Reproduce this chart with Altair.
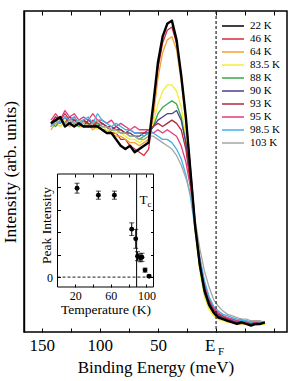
import altair as alt
import pandas as pd

# ---------------- spectra: binding energy (meV) and intensity (% of frame height)
energy = [142, 138, 134, 130, 126, 122, 118, 114, 110, 106, 102, 98, 94, 90, 86, 82,
          78, 74, 70, 66, 62, 58, 54, 50, 46, 42, 38, 34, 30, 26, 22, 18, 14, 10, 6,
          2, -2, -6, -10, -14, -18, -22, -26, -30, -34, -38, -42]

temperatures = ["22 K", "46 K", "64 K", "83.5 K", "88 K", "90 K", "93 K", "95 K",
                "98.5 K", "103 K"]
line_colors = ["#000000", "#d8283c", "#f4a233", "#f2ee3a", "#3aa64c", "#4b3f8e",
               "#b3283a", "#e03c7c", "#3fb2e6", "#a6a6a6"]

k22 = [65, 66, 67, 64, 65, 64, 65, 64, 64, 64, 64, 63, 62, 62, 60, 58, 57, 58, 56, 57,
       58, 59, 71, 84, 92, 96, 97, 91, 80, 67, 50, 33, 21, 13, 8.5, 6, 4.5, 4, 3.5, 3,
       2.5, 3, 2.5, 2, 2.5, 2.5, 3]
k46 = [65, 67, 66, 68, 66, 67, 65, 66, 64, 66, 65, 64, 64, 62, 62, 60, 60, 58, 57, 56,
       55, 57, 68, 82, 90, 94, 95, 90, 80, 67, 51, 34, 22, 14, 9, 7, 5.5, 4.5, 4, 3.5,
       3, 3.5, 2.5, 3, 2.5, 3, 3]
k64 = [63, 65, 64, 66, 64, 65, 64, 64, 65, 63, 64, 63, 63, 62, 61, 61, 60, 59, 59, 58,
       59, 60, 67, 79, 87, 91, 92, 88, 78, 65, 49, 32, 20, 12, 8, 5.5, 4.5, 4, 3, 3,
       2.5, 2.5, 2.5, 2, 2.5, 2.5, 2.5]
k83 = [64, 65, 64, 66, 65, 64, 66, 65, 64, 65, 63, 64, 63, 63, 62, 62, 61, 60, 60, 59,
       60, 61, 65, 71, 75, 77, 77, 75, 70, 61, 47, 31, 19, 11, 7, 5, 4, 3.5, 3, 3,
       2.5, 3, 2.5, 2.5, 2, 2.5, 2.5]
k88 = [65, 64, 66, 65, 66, 65, 64, 66, 65, 64, 65, 64, 64, 63, 63, 62, 62, 61, 61, 60,
       61, 62, 64, 68, 70, 71, 72, 71, 67, 59, 47, 32, 20, 12, 8, 6, 5, 4, 3.5, 3,
       3, 3, 2.5, 3, 2.5, 2.5, 3]
k90 = [64, 66, 65, 67, 65, 66, 65, 64, 66, 65, 64, 65, 64, 63, 64, 63, 62, 62, 61, 61,
       62, 62, 64, 66, 67, 68, 68, 69, 66, 59, 47, 33, 21, 13, 9, 6.5, 5, 4.5, 4, 3.5,
       3, 3.5, 3, 2.5, 3, 2.5, 3]
k93 = [65, 67, 66, 65, 67, 66, 65, 66, 65, 64, 66, 65, 64, 64, 63, 63, 62, 63, 62, 62,
       62, 63, 64, 65, 64, 65, 66, 65, 63, 57, 46, 33, 22, 14, 10, 7, 5.5, 5, 4, 4,
       3.5, 3, 3.5, 3, 3, 3, 3]
k95 = [66, 68, 66, 69, 67, 68, 66, 67, 66, 68, 66, 66, 65, 66, 64, 65, 64, 63, 64, 63,
       63, 63, 62, 63, 62, 63, 62, 61, 58, 53, 45, 33, 23, 15, 10.5, 7.5, 6, 5, 4.5, 4,
       3.5, 4, 3, 3.5, 3, 3, 3]
k98 = [64, 66, 65, 67, 66, 67, 65, 66, 67, 65, 68, 66, 65, 64, 65, 64, 63, 63, 62, 62,
       61, 62, 62, 61, 60, 60, 59, 57, 54, 49, 42, 32, 23, 16, 11, 8, 6.5, 5.5, 5, 4.5,
       4, 3.5, 3.5, 3, 3.5, 3, 3]
k103 = [64, 65, 66, 65, 66, 65, 66, 65, 64, 65, 66, 64, 64, 63, 63, 62, 62, 61, 61, 60,
        60, 61, 61, 60, 59, 58, 57, 55, 52, 48, 43, 35, 26, 19, 14, 10, 8, 6.5, 5.5, 5,
        4.5, 4, 4, 3.5, 3.5, 3.5, 3]
spectra = [k22, k46, k64, k83, k88, k90, k93, k95, k98, k103]

# ---------------- inset: peak intensity versus temperature
peak_T = [22, 46, 64, 83.5, 88, 90, 93, 95, 98.5, 103]
peak_I = [3.95, 3.64, 3.64, 2.13, 1.70, 0.93, 0.86, 0.88, 0.31, 0.04]
peak_err = [0.22, 0.18, 0.18, 0.28, 0.42, 0.20, 0.18, 0.18, 0.09, 0.05]
T_c = 89.0

rows = []
for label, values in zip(temperatures, spectra):
    for e, v in zip(energy, values):
        rows.append({"E": e, "I": v, "T": label})
curves = pd.DataFrame(rows)

peaks = pd.DataFrame({
    "T": peak_T,
    "I": peak_I,
    "lo": [i - s for i, s in zip(peak_I, peak_err)],
    "hi": [i + s for i, s in zip(peak_I, peak_err)],
})

SERIF = "Liberation Serif, Times New Roman, serif"

# ---------------- main panel scales and axes
x_main = alt.Scale(domain=[-61, 165.2], reverse=True, nice=False, zero=False)
y_main = alt.Scale(domain=[0, 100], nice=False, zero=False)
color_scale = alt.Scale(domain=temperatures, range=line_colors)
legend = alt.Legend(
    orient="none", legendX=197, legendY=9, title=None, symbolType="stroke",
    symbolSize=484, symbolStrokeWidth=1.5, labelFont=SERIF, labelFontSize=11,
    labelOffset=5, clipHeight=12.2, rowPadding=0, padding=0,
)
minor_E = list(range(-50, 151, 25))

axis_E_labels = alt.Axis(
    orient="bottom", values=[150, 100, 50], ticks=False, domain=False, grid=False,
    labelFontSize=17, labelPadding=5, labelOverlap=False, labelFlush=False,
    title="Binding Energy (meV)", titleFontSize=17, titlePadding=6,
)
axis_E_bottom_ticks = alt.Axis(
    orient="bottom", values=minor_E, labels=False, tickSize=4, domain=False,
    grid=False, title=None, offset=-4,
)
axis_E_top_ticks = alt.Axis(
    orient="top", values=minor_E, labels=False, tickSize=4, domain=False,
    grid=False, title=None, offset=-4,
)
axis_I = alt.Axis(
    orient="left", labels=False, ticks=False, domain=True, domainColor="black",
    domainWidth=1.4, grid=False, minExtent=0,
    title="Intensity (arb. units)", titleFontSize=17.5, titlePadding=5,
)

ef = pd.DataFrame({"E": [0.0], "I": [0.0]})

ef_rule = alt.Chart(ef).mark_rule(strokeDash=[3, 2], color="#222222", strokeWidth=1.2).encode(
    x=alt.X("E:Q", scale=x_main, axis=axis_E_bottom_ticks)
)
warm = alt.Chart(curves).transform_filter(alt.datum.T != "22 K").mark_line(
    strokeWidth=1.3, strokeJoin="round"
).encode(
    x=alt.X("E:Q", scale=x_main, axis=axis_E_labels),
    y=alt.Y("I:Q", scale=y_main, axis=axis_I),
    color=alt.Color("T:N", scale=color_scale, legend=legend),
)
cold = alt.Chart(curves).transform_filter(alt.datum.T == "22 K").mark_line(
    strokeWidth=2.4, strokeJoin="round"
).encode(
    x=alt.X("E:Q", scale=x_main, axis=None),
    y=alt.Y("I:Q", scale=y_main, axis=None),
    color=alt.Color("T:N", scale=color_scale, legend=legend),
)
ef_E = alt.Chart(ef).mark_text(
    text="E", font=SERIF, fontSize=17, align="center", baseline="alphabetic", dx=-6, dy=19
).encode(
    x=alt.X("E:Q", scale=x_main, axis=axis_E_top_ticks),
    y=alt.Y("I:Q", scale=y_main, axis=None),
)
ef_F = alt.Chart(ef).mark_text(
    text="F", font=SERIF, fontSize=11, align="center", baseline="alphabetic", dx=5, dy=23
).encode(
    x=alt.X("E:Q", scale=x_main, axis=None),
    y=alt.Y("I:Q", scale=y_main, axis=None),
)

# ---------------- inset panel scales and axes
inset_x = alt.Scale(domain=[0, 108], range=[33.5, 129.5], nice=False, zero=False)
inset_y = alt.Scale(domain=[-0.44, 4.58], range=[276, 163], nice=False, zero=False)
inset_box = pd.DataFrame({
    "x0": [0], "x1": [108], "y0": [-0.44], "y1": [4.58],
    "zero": [0.0], "tc": [T_c], "ty": [3.25],
})
T_ticks = [20, 40, 60, 80, 100]
I_ticks = [0, 1, 2, 3, 4]

ax_in_bottom = alt.Axis(
    orient="bottom", offset=-45, values=[20, 60, 100], ticks=False, domain=False,
    grid=False, labelFontSize=12, labelPadding=3, labelOverlap=False, labelFlush=False,
    title="Temperature (K)", titleFontSize=13.5, titlePadding=1, zindex=1,
)
ax_in_left = alt.Axis(
    orient="left", offset=-33.5, values=[0], ticks=False, domain=False, grid=False,
    labelFontSize=12, labelPadding=5, title="Peak Intensity", titleFontSize=13.5,
    titleX=-4.5, titleY=214, zindex=1,
)
ax_in_bottom_ticks = alt.Axis(
    orient="bottom", offset=-48, values=T_ticks, labels=False, tickSize=3,
    domain=False, grid=False, title=None, zindex=1,
)
ax_in_left_ticks = alt.Axis(
    orient="left", offset=-36.5, values=I_ticks, labels=False, tickSize=3,
    domain=False, grid=False, title=None, zindex=1,
)
ax_in_top_ticks = alt.Axis(
    orient="top", offset=-166, values=T_ticks, labels=False, tickSize=3,
    domain=False, grid=False, title=None, zindex=1,
)
ax_in_right_ticks = alt.Axis(
    orient="right", offset=-136.5, values=I_ticks, labels=False, tickSize=3,
    domain=False, grid=False, title=None, zindex=1,
)

frame = alt.Chart(inset_box).mark_rect(fillOpacity=0, stroke="black", strokeWidth=1).encode(
    x=alt.X("x0:Q", scale=inset_x, axis=ax_in_bottom),
    x2="x1:Q",
    y=alt.Y("y0:Q", scale=inset_y, axis=ax_in_left),
    y2="y1:Q",
)
bars = alt.Chart(peaks).mark_rule(color="black", strokeWidth=1).encode(
    x=alt.X("T:Q", scale=inset_x, axis=ax_in_bottom_ticks),
    y=alt.Y("lo:Q", scale=inset_y, axis=ax_in_left_ticks),
    y2="hi:Q",
)
caps = alt.Chart(peaks).transform_fold(["lo", "hi"], as_=["end", "v"]).mark_tick(
    orient="horizontal", size=5, thickness=1, color="black"
).encode(
    x=alt.X("T:Q", scale=inset_x, axis=None),
    y=alt.Y("v:Q", scale=inset_y, axis=None),
)
dots = alt.Chart(peaks).mark_point(filled=True, size=24, color="black", opacity=1).encode(
    x=alt.X("T:Q", scale=inset_x, axis=ax_in_top_ticks),
    y=alt.Y("I:Q", scale=inset_y, axis=ax_in_right_ticks),
)
zero_line = alt.Chart(inset_box).mark_rule(strokeDash=[3, 2], strokeWidth=0.9, color="black").encode(
    x=alt.X("x0:Q", scale=inset_x, axis=None),
    x2="x1:Q",
    y=alt.Y("zero:Q", scale=inset_y, axis=None),
)
tc_line = alt.Chart(inset_box).mark_rule(strokeWidth=1, color="black").encode(
    x=alt.X("tc:Q", scale=inset_x, axis=None),
    y=alt.Y("y0:Q", scale=inset_y, axis=None),
    y2="y1:Q",
)
tc_T = alt.Chart(inset_box).mark_text(
    text="T", font=SERIF, fontSize=13, align="left", baseline="alphabetic", dx=3
).encode(
    x=alt.X("tc:Q", scale=inset_x, axis=None),
    y=alt.Y("ty:Q", scale=inset_y, axis=None),
)
tc_c = alt.Chart(inset_box).mark_text(
    text="c", font=SERIF, fontSize=9, align="left", baseline="alphabetic", dx=11, dy=3
).encode(
    x=alt.X("tc:Q", scale=inset_x, axis=None),
    y=alt.Y("ty:Q", scale=inset_y, axis=None),
)

# every layer carries explicit domains, so independent position scales stay aligned
chart = alt.layer(
    warm, cold, ef_rule, ef_E, ef_F,
    frame, zero_line, tc_line, bars, caps, dots, tc_T, tc_c,
).resolve_scale(
    x="independent", y="independent"
).properties(
    width=263, height=321,
    autosize=alt.AutoSizeParams(type="none"),
    padding={"left": 24, "top": 11, "right": 2, "bottom": 49},
).configure_view(
    stroke="black", strokeWidth=1.5
).configure_axis(
    labelFont=SERIF, titleFont=SERIF, labelColor="black", titleColor="black",
    tickColor="black", tickWidth=1, titleFontWeight="normal",
).configure_legend(
    labelFont=SERIF, labelColor="black"
).configure_text(
    font=SERIF, color="black"
)

chart.save("out.html", embed_options={"renderer": "svg", "actions": False})
